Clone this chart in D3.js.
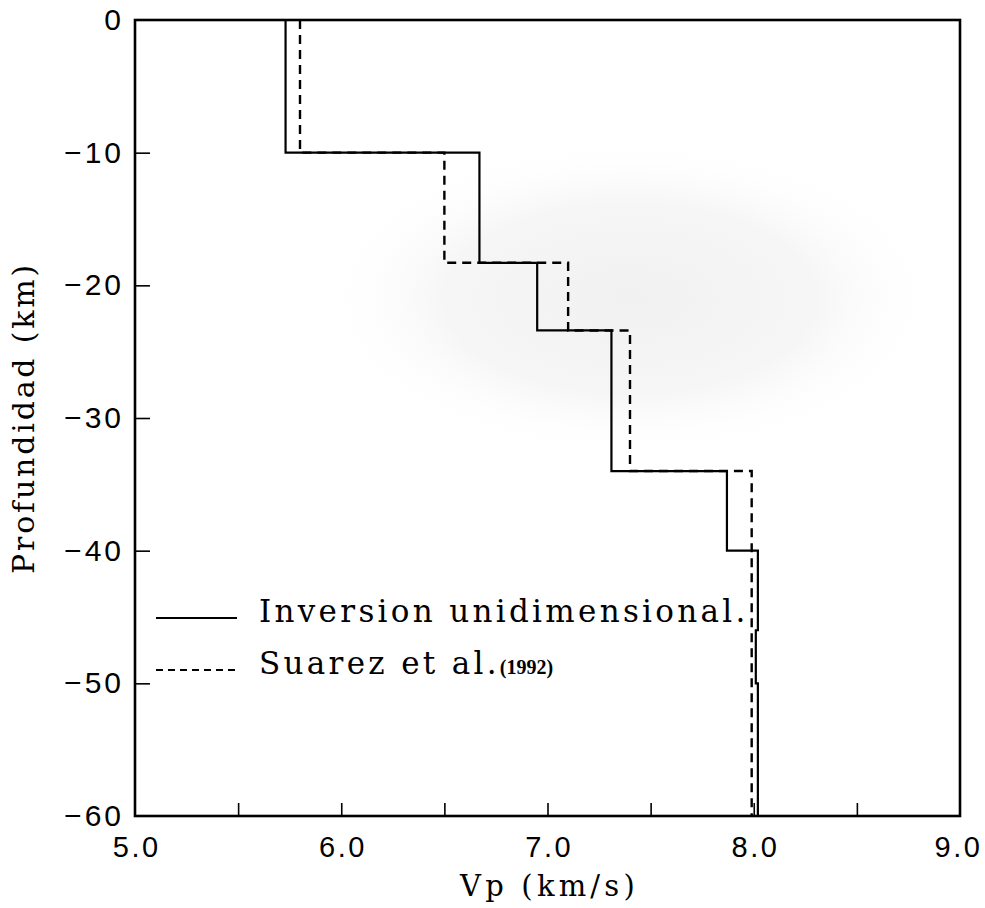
<!DOCTYPE html>
<html>
<head>
<meta charset="utf-8">
<script src="https://cdn.jsdelivr.net/npm/d3@7"></script>
<style>
html,body{margin:0;padding:0;background:#fff;}
svg{display:block;}
</style>
</head>
<body>
<svg id="chart" width="985" height="908"></svg>
<script>
// ---- data ----
const solidTops = [0, -10, -18.3, -23.4, -34, -40, -46, -50];
const solidVp   = [5.73, 6.67, 6.95, 7.31, 7.87, 8.02, 8.01, 8.02];
const dashTops  = [0, -10, -18.3, -23.4, -34];
const dashVp    = [5.80, 6.50, 7.10, 7.40, 7.99];
const bottomDepth = -60;
const xTickLabels = [5.0, 6.0, 7.0, 8.0, 9.0];
const xMinorTicks = [5.5, 6.0, 6.5, 7.0, 7.5, 8.0, 8.5];
const yTickLabels = [0, -10, -20, -30, -40, -50, -60];
const legendLabels = ["Inversion unidimensional.", "Suarez et al.", "(1992)"];

const svg = d3.select("#chart");
const L = 135, R = 960, T = 20, B = 816;
const x = d3.scaleLinear().domain([5, 9]).range([L, R]);
const y = d3.scaleLinear().domain([0, -60]).range([T, B]);

// faint stipple shading (scanned background)
const defs = svg.append("defs");
const rg = defs.append("radialGradient").attr("id", "stip");
rg.append("stop").attr("offset", "0%").attr("stop-color", "#f1f1f1");
rg.append("stop").attr("offset", "60%").attr("stop-color", "#f6f6f6");
rg.append("stop").attr("offset", "100%").attr("stop-color", "#ffffff").attr("stop-opacity", 0);
svg.append("ellipse")
  .attr("cx", x(7.4)).attr("cy", y(-21))
  .attr("rx", x(8.9) - x(7.4)).attr("ry", y(-33) - y(-21))
  .attr("fill", "url(#stip)");

// build step profiles
function steps(tops, vps) {
  const pts = [];
  tops.forEach((t, i) => {
    const b = i < tops.length - 1 ? tops[i + 1] : bottomDepth;
    pts.push([vps[i], t]);
    pts.push([vps[i], b]);
  });
  return pts;
}
const line = d3.line().x(d => x(d[0])).y(d => y(d[1]));

svg.append("path").attr("d", line(steps(dashTops, dashVp)))
  .attr("fill", "none").attr("stroke", "#000").attr("stroke-width", 2.4)
  .attr("stroke-dasharray", "9,6");
svg.append("path").attr("d", line(steps(solidTops, solidVp)))
  .attr("fill", "none").attr("stroke", "#000").attr("stroke-width", 2.2);

const sans = "Liberation Sans, Arial, sans-serif";
// axes
const xAxisTicks = d3.axisBottom(x).tickValues(xMinorTicks).tickSizeInner(-13).tickSizeOuter(0).tickFormat("");
svg.append("g").attr("transform", `translate(0,${B})`).call(xAxisTicks)
  .call(g => g.select(".domain").remove())
  .call(g => g.selectAll("line").attr("stroke-width", 1.6));

const xAxisLab = d3.axisBottom(x).tickValues(xTickLabels).tickSize(0).tickPadding(20)
  .tickFormat(d3.format(".1f"));
svg.append("g").attr("transform", `translate(0,${B})`).call(xAxisLab)
  .call(g => g.select(".domain").remove())
  .call(g => g.selectAll("text").attr("font-family", sans)
      .attr("font-size", 29).attr("letter-spacing", 2.5).attr("dx", 1.2).attr("fill", "#000"))
  .call(g => g.selectAll("text").filter(d => d === 9).attr("dx", -2));

const yAxis = d3.axisLeft(y).tickValues(yTickLabels).tickSizeInner(-15).tickSizeOuter(0).tickPadding(11)
  .tickFormat(d => d === 0 ? "0" : "\u2212" + Math.abs(d));
svg.append("g").attr("transform", `translate(${L},0)`).call(yAxis)
  .call(g => g.select(".domain").remove())
  .call(g => g.selectAll("line").attr("stroke-width", 1.6)
      .attr("display", d => (d === 0 || d === -60) ? "none" : null))
  .call(g => g.selectAll("text").attr("font-family", sans)
      .attr("font-size", 30).attr("letter-spacing", 3).attr("fill", "#000"));

// frame
svg.append("rect").attr("x", L).attr("y", T).attr("width", R - L).attr("height", B - T)
  .attr("fill", "none").attr("stroke", "#000").attr("stroke-width", 2.6);

// axis titles
const serif = "DejaVu Serif, Liberation Serif, serif";
svg.append("text").attr("x", (L + R) / 2 + 2).attr("y", 896).attr("text-anchor", "middle")
  .attr("font-family", serif).attr("font-size", 29).attr("letter-spacing", 4.2).text("Vp (km/s)");
svg.append("text").attr("transform", `translate(34,${(T + B) / 2}) rotate(-90)`)
  .attr("text-anchor", "middle").attr("font-family", serif).attr("font-size", 30)
  .attr("letter-spacing", 2.8).text("Profundidad (km)");

// legend
svg.append("line").attr("x1", 156).attr("x2", 237).attr("y1", 618).attr("y2", 618)
  .attr("stroke", "#000").attr("stroke-width", 1.8);
svg.append("line").attr("x1", 156).attr("x2", 237).attr("y1", 670).attr("y2", 670)
  .attr("stroke", "#000").attr("stroke-width", 1.8).attr("stroke-dasharray", "7,5");
svg.append("text").attr("x", 259).attr("y", 622).attr("font-family", serif).attr("font-size", 31)
  .attr("letter-spacing", 3.3).text(legendLabels[0]);
const t2 = svg.append("text").attr("x", 259).attr("y", 674).attr("font-family", serif).attr("font-size", 31);
t2.append("tspan").attr("letter-spacing", 3.3).text(legendLabels[1]);
t2.append("tspan").attr("font-family", "Liberation Serif, Times New Roman, serif")
  .attr("font-weight", "bold").attr("font-size", 20).text(legendLabels[2]);
</script>
</body>
</html>
